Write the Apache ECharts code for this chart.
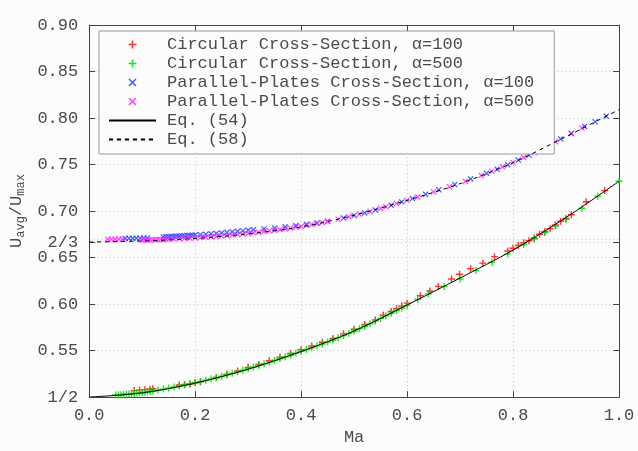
<!DOCTYPE html>
<html>
<head>
<meta charset="utf-8">
<script src="https://cdn.jsdelivr.net/npm/echarts@6/dist/echarts.min.js"></script>
<style>
html,body{margin:0;padding:0;background:#fcfcfc;}
#chart{width:638px;height:451px;}
</style>
</head>
<body>
<div id="chart"></div>
<script>
// ---- data ----
const seriesNames = [
  'Circular Cross-Section, α=100',
  'Circular Cross-Section, α=500',
  'Parallel-Plates Cross-Section, α=100',
  'Parallel-Plates Cross-Section, α=500',
  'Eq. (54)',
  'Eq. (58)'
];

const circ100 = [
  [0.085,0.5070],[0.095,0.5075],[0.105,0.5080],[0.115,0.5085],[0.120,0.5090],
  [0.170,0.5130],[0.180,0.5135],[0.190,0.5140],[0.200,0.5155],[0.210,0.5165],
  [0.240,0.5210],[0.260,0.5245],[0.280,0.5280],[0.300,0.5320],[0.320,0.5350],
  [0.340,0.5390],[0.360,0.5430],[0.380,0.5470],[0.400,0.5510],[0.420,0.5550],
  [0.440,0.5590],[0.460,0.5630],[0.480,0.5680],[0.500,0.5730],[0.520,0.5780],
  [0.540,0.5830],[0.555,0.5880],[0.570,0.5920],[0.580,0.5950],[0.590,0.5980],
  [0.600,0.6010],[0.625,0.6090],[0.643,0.6140],[0.659,0.6190],[0.684,0.6270],
  [0.699,0.6320],[0.720,0.6380],[0.743,0.6440],[0.765,0.6510],[0.790,0.6570],
  [0.800,0.6600],[0.810,0.6630],[0.820,0.6660],[0.830,0.6680],[0.840,0.6710],
  [0.850,0.6750],[0.860,0.6780],[0.870,0.6810],[0.880,0.6850],[0.890,0.6890],
  [0.900,0.6920],[0.910,0.6960],[0.938,0.7100],[0.973,0.7220]
];

const circ500 = [
  [0.05,0.5022],[0.055,0.5024],[0.06,0.5026],[0.065,0.5028],[0.07,0.5031],
  [0.075,0.5034],[0.08,0.5037],[0.085,0.5040],[0.09,0.5043],[0.095,0.5046],
  [0.10,0.5050],[0.105,0.5053],[0.11,0.5057],[0.115,0.5061],[0.12,0.5065],
  [0.13,0.5075],[0.14,0.5086],
  [0.15,0.5097],[0.16,0.5108],[0.17,0.5120],[0.18,0.5132],[0.19,0.5144],
  [0.20,0.5156],[0.21,0.5169],[0.22,0.5182],[0.23,0.5196],[0.24,0.5210],
  [0.25,0.5225],[0.26,0.5240],[0.27,0.5256],[0.28,0.5272],[0.29,0.5289],
  [0.30,0.5306],[0.31,0.5323],[0.32,0.5341],[0.33,0.5358],[0.34,0.5377],
  [0.35,0.5396],[0.36,0.5414],[0.37,0.5433],[0.38,0.5453],[0.39,0.5473],
  [0.40,0.5493],[0.41,0.5512],[0.42,0.5532],[0.43,0.5551],[0.44,0.5571],
  [0.45,0.5592],[0.46,0.5614],[0.47,0.5637],[0.48,0.5661],[0.49,0.5685],
  [0.50,0.5710],[0.51,0.5736],[0.52,0.5762],[0.53,0.5789],[0.54,0.5817],
  [0.55,0.5846],[0.56,0.5874],[0.57,0.5902],[0.58,0.5930],[0.59,0.5958],
  [0.60,0.5986],[0.62,0.6050],[0.64,0.6110],[0.67,0.6190],[0.70,0.6270],
  [0.73,0.6360],[0.76,0.6450],[0.79,0.6540],[0.82,0.6640],[0.84,0.6700],
  [0.86,0.6770],[0.88,0.6840],[0.90,0.6910],[0.93,0.7030],[0.96,0.7160],
  [1.00,0.7320]
];

const plates100 = [
  [0.068,0.6706],[0.075,0.6707],[0.082,0.6707],[0.089,0.6708],[0.096,0.6708],
  [0.103,0.6709],[0.110,0.6709],
  [0.14,0.6722],[0.145,0.6724],[0.15,0.6725],[0.155,0.6727],[0.16,0.6728],
  [0.165,0.6730],[0.17,0.6731],[0.175,0.6733],[0.18,0.6734],[0.185,0.6736],
  [0.19,0.6738],[0.195,0.6740],[0.20,0.6742],[0.21,0.6746],[0.22,0.6750],
  [0.23,0.6755],[0.24,0.6760],[0.25,0.6765],[0.26,0.6770],[0.27,0.6776],
  [0.28,0.6782],[0.29,0.6788],[0.30,0.6794],[0.31,0.6800],[0.33,0.6808],
  [0.35,0.6818],[0.37,0.6830],[0.39,0.6843],[0.41,0.6857],[0.43,0.6872],
  [0.45,0.6890],[0.48,0.6925],[0.50,0.6952],[0.52,0.6980],[0.54,0.7012],
  [0.57,0.7062],[0.59,0.7098],[0.61,0.7135],[0.635,0.7180],[0.66,0.7228],
  [0.69,0.7285],[0.72,0.7345],[0.75,0.7405],[0.77,0.7450],[0.79,0.7497],
  [0.81,0.7548],[0.83,0.7600],[0.85,0.7658],[0.87,0.7716],[0.89,0.7775],
  [0.91,0.7835],[0.935,0.7910],[0.955,0.7960],[0.976,0.8020]
];

const plates500 = [
  [0.035,0.6697],[0.042,0.6697],[0.049,0.6698],[0.056,0.6698],[0.063,0.6699],
  [0.10,0.6688],[0.105,0.6688],[0.11,0.6689],[0.115,0.6690],[0.12,0.6691],
  [0.125,0.6692],[0.13,0.6693],[0.135,0.6694],[0.14,0.6695],[0.145,0.6696],
  [0.15,0.6697],[0.16,0.6699],[0.17,0.6702],[0.18,0.6705],[0.19,0.6708],
  [0.20,0.6711],[0.21,0.6715],[0.22,0.6719],[0.23,0.6723],[0.24,0.6727],
  [0.25,0.6732],[0.26,0.6737],[0.27,0.6742],[0.28,0.6748],[0.29,0.6754],
  [0.30,0.6760],[0.31,0.6766],[0.32,0.6773],[0.33,0.6780],[0.34,0.6787],
  [0.35,0.6794],[0.36,0.6801],[0.37,0.6809],[0.38,0.6817],[0.39,0.6826],
  [0.40,0.6835],[0.41,0.6845],[0.42,0.6855],[0.43,0.6866],[0.44,0.6877],
  [0.45,0.6888],[0.47,0.6912],[0.49,0.6938],[0.51,0.6966],[0.53,0.6996],
  [0.55,0.7028],[0.56,0.7045],[0.58,0.7080],[0.60,0.7116],[0.62,0.7152],
  [0.65,0.7205],[0.68,0.7260],[0.71,0.7318],[0.74,0.7382],[0.76,0.7428],
  [0.78,0.7475],[0.80,0.7522],[0.82,0.7575],[0.84,0.7630],[0.86,0.7688],
  [0.88,0.7745],[0.91,0.7832],[0.93,0.7892]
];

const eq54 = [
  [0,0.5000],[0.1,0.5045],[0.2,0.5150],[0.3,0.5300],[0.4,0.5490],[0.5,0.5710],
  [0.6,0.5990],[0.7,0.6280],[0.8,0.6580],[0.9,0.6930],[1.0,0.7320]
];

const eq58 = [
  [0,0.6667],[0.1,0.6678],[0.2,0.6705],[0.3,0.6755],[0.4,0.6830],[0.5,0.6955],
  [0.6,0.7115],[0.7,0.7295],[0.8,0.7520],[0.9,0.7800],[1.0,0.8090]
];

const yTickValues = [0.5, 0.55, 0.6, 0.65, 2/3, 0.7, 0.75, 0.8, 0.85, 0.9];
const extraGridValue = 2/3;

// ---- styling ----
const FONT = 'Liberation Mono';
const TXT = '#4a4a4a';
const AX = '#444';
const PLUS = 'path://M4,0H6V4H10V6H6V10H4V6H0V4H4Z';
const CROSS = 'path://M0,1.4L1.4,0L5,3.6L8.6,0L10,1.4L6.4,5L10,8.6L8.6,10L5,6.4L1.4,10L0,8.6L3.6,5Z';
const FLAT = 'path://M0,0H10V0.1H0Z';
const HIDDEN = { color: 'rgba(0,0,0,0)', borderColor: 'rgba(0,0,0,0)', borderWidth: 0 };

function yFmt(v) {
  if (Math.abs(v - 0.5) < 1e-9) return '1/2';
  if (Math.abs(v - 2/3) < 1e-9) return '2/3';
  return v.toFixed(2);
}

function scatter(name, data, color, sym, size) {
  return {
    name: name, type: 'scatter', data: data,
    symbol: sym, symbolSize: size, symbolKeepAspect: true,
    itemStyle: { color: color, opacity: 0.85 },
    xAxisIndex: 0, yAxisIndex: 0, silent: true
  };
}

const chart = echarts.init(document.getElementById('chart'), null, { renderer: 'canvas' });
const option = {
  backgroundColor: '#fcfcfc',
  animation: false,
  grid: { left: 89, right: 19, top: 25, bottom: 51, show: false },
  legend: {
    left: 99, top: 31, orient: 'vertical',
    padding: [4, 20, 5, 9],
    itemWidth: 47, itemHeight: 8, itemGap: 0,
    backgroundColor: '#fcfcfc',
    borderColor: '#999', borderWidth: 1, borderRadius: 0,
    textStyle: { fontFamily: FONT, fontSize: 17, color: TXT, lineHeight: 19, padding: [0, 0, 0, 6] },
    data: [
      { name: seriesNames[0] },
      { name: seriesNames[1] },
      { name: seriesNames[2] },
      { name: seriesNames[3] },
      { name: seriesNames[4], itemStyle: HIDDEN },
      { name: seriesNames[5], itemStyle: HIDDEN }
    ],
    selectedMode: false
  },
  xAxis: [{
    type: 'value', min: 0, max: 1, interval: 0.2,
    name: 'Ma', nameLocation: 'middle', nameGap: 30,
    nameTextStyle: { fontFamily: FONT, fontSize: 17, color: TXT },
    axisLine: { show: true, onZero: false, lineStyle: { color: AX, width: 1 } },
    axisTick: { show: true, inside: true, length: 6, lineStyle: { color: AX } },
    axisLabel: { fontFamily: FONT, fontSize: 17, color: TXT, margin: 10,
      formatter: v => v.toFixed(1) },
    splitLine: { show: true, lineStyle: { color: '#c8c8c8', type: [1, 3] } }
  }, {
    type: 'value', min: 0, max: 1, interval: 0.2, position: 'top',
    axisLine: { show: true, onZero: false, lineStyle: { color: AX, width: 1 } },
    axisTick: { show: true, inside: true, length: 6, lineStyle: { color: AX } },
    axisLabel: { show: false }, splitLine: { show: false }
  }],
  yAxis: [{
    type: 'value', min: 0.5, max: 0.9, interval: 0.05,
    name: 'U{s|avg}/U{s|max}', nameLocation: 'middle', nameGap: 62, nameRotate: 90,
    nameTextStyle: { fontFamily: FONT, fontSize: 17, color: TXT,
      rich: { s: { fontFamily: FONT, fontSize: 12, color: TXT, verticalAlign: 'bottom', padding: [8, 0, 0, 0] } } },
    axisLine: { show: true, onZero: false, lineStyle: { color: AX, width: 1 } },
    axisTick: { show: true, inside: true, length: 6, customValues: yTickValues, lineStyle: { color: AX } },
    axisLabel: { fontFamily: FONT, fontSize: 17, color: TXT, margin: 11,
      customValues: yTickValues, formatter: yFmt, hideOverlap: false },
    splitLine: { show: true, lineStyle: { color: '#c8c8c8', type: [1, 3] } }
  }, {
    type: 'value', min: 0.5, max: 0.9, interval: 0.05, position: 'right',
    axisLine: { show: true, onZero: false, lineStyle: { color: AX, width: 1 } },
    axisTick: { show: true, inside: true, length: 6, customValues: yTickValues, lineStyle: { color: AX } },
    axisLabel: { show: false }, splitLine: { show: false }
  }],
  series: [
    scatter(seriesNames[0], circ100, '#ff1010', PLUS, 7),
    scatter(seriesNames[1], circ500, '#00e000', PLUS, 7),
    scatter(seriesNames[2], plates100, '#2040ff', CROSS, 6),
    scatter(seriesNames[3], plates500, '#ff20ff', CROSS, 6),
    {
      name: seriesNames[4], type: 'line', data: eq54, smooth: 0.3,
      showSymbol: false, symbol: FLAT, symbolKeepAspect: true,
      lineStyle: { color: '#000', width: 1 }, itemStyle: { color: '#000' },
      xAxisIndex: 0, yAxisIndex: 0, silent: true, z: 5,
      markLine: {
        silent: true, symbol: 'none', label: { show: false },
        lineStyle: { color: '#c8c8c8', type: [1, 3], width: 1 },
        data: [{ yAxis: extraGridValue }], z: 0
      }
    },
    {
      name: seriesNames[5], type: 'line', data: eq58, smooth: 0.3,
      showSymbol: false, symbol: FLAT, symbolKeepAspect: true,
      lineStyle: { color: '#000', width: 1, type: [4, 4] }, itemStyle: { color: '#000' },
      xAxisIndex: 0, yAxisIndex: 0, silent: true, z: 5
    }
  ]
};
chart.setOption(option);
</script>
</body>
</html>
